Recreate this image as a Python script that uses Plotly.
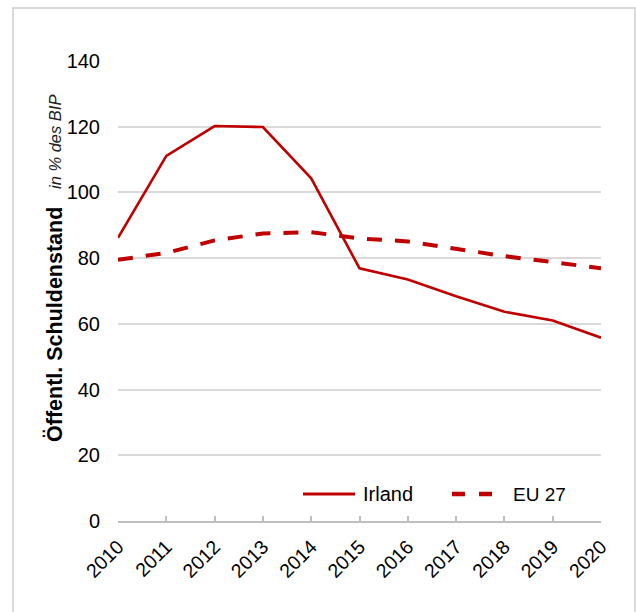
import plotly.graph_objects as go

# Public debt (% of GDP), 2010-2020
years = ["2010", "2011", "2012", "2013", "2014", "2015", "2016", "2017", "2018", "2019", "2020"]
irland = [86.2, 111.1, 120.2, 119.9, 104.3, 76.9, 73.5, 68.4, 63.7, 61.0, 55.8]
eu27 = [79.5, 81.6, 85.4, 87.5, 87.9, 86.0, 85.1, 82.8, 80.6, 78.8, 76.9]
y_ticks = [0, 20, 40, 60, 80, 100, 120, 140]

RED = "#c00000"
FONT = "Liberation Sans, Arial, sans-serif"

W, H = 636, 612
L, R, T, B = 118, 35, 61, 91
PW, PH = W - L - R, H - T - B


def px(x):
    return (x - L) / PW


def py(y):
    return (H - B - y) / PH


fig = go.Figure()
fig.add_trace(go.Scatter(x=years, y=irland, mode="lines", name="Irland",
                         line=dict(color=RED, width=2.6), showlegend=False))
fig.add_trace(go.Scatter(x=years, y=eu27, mode="lines", name="EU 27",
                         line=dict(color=RED, width=4, dash="15px,13px"),
                         showlegend=False))

shapes = [
    # outer frame
    dict(type="rect", xref="paper", yref="paper",
         x0=px(13), x1=px(635), y0=py(620), y1=py(8),
         line=dict(color="#d9d9d9", width=2), layer="below"),
    # legend samples
    dict(type="line", xref="paper", yref="paper",
         x0=px(303), x1=px(355), y0=py(494), y1=py(494),
         line=dict(color=RED, width=3)),
    dict(type="line", xref="paper", yref="paper",
         x0=px(452), x1=px(495), y0=py(494), y1=py(494),
         line=dict(color=RED, width=4.5, dash="13px,14px")),
]

annotations = [
    dict(text="Irland", xref="paper", yref="paper", x=px(361), y=py(494),
         xanchor="left", yanchor="middle", showarrow=False,
         font=dict(family=FONT, size=20, color="#000000")),
    dict(text="EU 27", xref="paper", yref="paper", x=px(511), y=py(494),
         xanchor="left", yanchor="middle", showarrow=False,
         font=dict(family=FONT, size=19, color="#000000")),
    dict(text="<b>Öffentl. Schuldenstand</b>", xref="paper", yref="paper",
         x=px(54), y=py(325), textangle=-90, showarrow=False,
         xanchor="center", yanchor="middle",
         font=dict(family=FONT, size=21.5, color="#000000")),
    dict(text="<i>in % des BIP</i>", xref="paper", yref="paper",
         x=px(55), y=py(142), textangle=-90, showarrow=False,
         xanchor="center", yanchor="middle",
         font=dict(family=FONT, size=16.5, color="#222222")),
]

fig.update_layout(
    width=W, height=H,
    margin=dict(l=L, r=R, t=T, b=B),
    paper_bgcolor="white", plot_bgcolor="white",
    font=dict(family=FONT, color="#000000"),
    shapes=shapes, annotations=annotations,
    showlegend=False,
)
fig.update_xaxes(
    type="category", range=[0, len(years) - 1],
    tickangle=-45, tickfont=dict(size=19.5, color="#000000"),
    showgrid=False, showline=True, linecolor="#bfbfbf", linewidth=1.5,
    ticks="inside", ticklen=5, tickcolor="#bfbfbf", tickwidth=1.5,
    zeroline=False, ticklabelstandoff=5,
)
fig.update_yaxes(
    range=[0, 140], tickvals=y_ticks, ticktext=[str(v) for v in y_ticks],
    tickfont=dict(size=20, color="#000000"),
    showgrid=True, gridcolor="#d9d9d9", gridwidth=1.5,
    showline=False, zeroline=False, ticks="", ticklabelstandoff=17,
)

fig.write_html("out.html")
